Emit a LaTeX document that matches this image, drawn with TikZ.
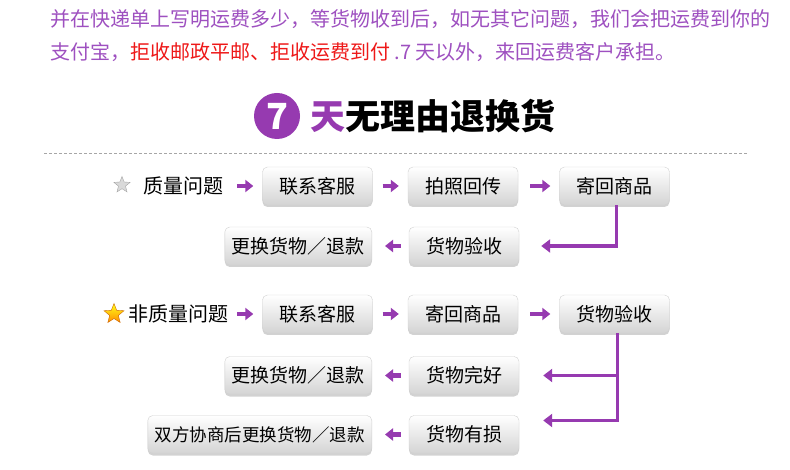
\documentclass[tikz,border=0pt]{standalone}
\usepackage{fontspec}
\setmainfont{Noto Sans CJK SC}
\usetikzlibrary{arrows.meta,shapes.geometric,shadows}
\definecolor{vio}{RGB}{150,58,176}
\definecolor{viotext}{RGB}{158,80,192}
\definecolor{redtext}{RGB}{238,24,24}
\begin{document}
\begin{tikzpicture}[x=1pt,y=-1pt,
  box/.style={rounded corners=5pt,minimum width=110pt,minimum height=38pt,inner xsep=7pt,
    top color=white,bottom color=black!17,draw=black!18,
    drop shadow={opacity=0.35,shadow xshift=0pt,shadow yshift=-2pt},font=\fontsize{19}{22}\selectfont},
  lbl/.style={font=\fontsize{20}{24}\selectfont,anchor=west,inner sep=0pt},
  flow/.style={vio,line width=4.5pt,-{Triangle[length=8pt,width=12pt]}},
  back/.style={vio,line width=3.5pt,-{Triangle[length=9pt,width=13pt]}}]
\fill[white] (0,0) rectangle (790,470);
\useasboundingbox (0,0) rectangle (790,470);
% notice on top
\node[lbl,viotext] (line1) at (50,19) {并在快递单上写明运费多少，等货物收到后，如无其它问题，我们会把运费到你的};
\node[lbl,viotext] (line2) at (50,52) {支付宝，\textcolor{redtext}{拒收邮政平邮、拒收运费到付}\ .7 天以外，来回运费客户承担。};
% title
\node[circle,fill=vio,minimum size=46pt,inner sep=0pt,text=white,font=\fontsize{36}{36}\selectfont\bfseries] (seven) at (277,116) {7};
\node[lbl,font=\fontsize{35}{40}\selectfont\bfseries] (title) at (310,116) {\textcolor{vio}{天}无理由退换货};
\draw[black!35,dash pattern=on 3pt off 2pt] (44,153) -- (748,153);
% quality problem
\node[star,star points=5,star point ratio=2.3,minimum size=17pt,inner sep=0pt,fill=black!15,draw=black!35] (star1) at (122,185) {};
\node[lbl] (quality) at (143,186) {质量问题};
\node[box] (contact1) at (317.5,186) {联系客服};
\node[box] (photo) at (463,186) {拍照回传};
\node[box] (send1) at (614.5,186) {寄回商品};
\node[box] (check1) at (464,246) {货物验收};
\node[box,anchor=east] (swap1) at (372,246) {更换货物／退款};
\draw[flow] ([xshift=14pt]quality.east) -- ([xshift=-9pt]contact1.west);
\draw[flow] ([xshift=10pt]contact1.east) -- ([xshift=-9pt]photo.west);
\draw[flow] ([xshift=12pt]photo.east) -- ([xshift=-9pt]send1.west);
\draw[back] ([xshift=2pt]send1.south) |- ([xshift=22pt]check1.east);
\draw[flow] ([xshift=-8pt]check1.west) -- ([xshift=13pt]swap1.east);
% non-quality problem
\node[star,star points=5,star point ratio=2.3,minimum size=21pt,inner sep=0pt,top color=yellow!90!white,bottom color=orange!90!yellow,draw=orange!80!black,thin] (star2) at (114,314) {};
\node[lbl] (nonq) at (128,314) {非质量问题};
\node[box] (contact2) at (317.5,314) {联系客服};
\node[box] (send2) at (463,314) {寄回商品};
\node[box] (check2) at (614.5,314) {货物验收};
\node[box] (good) at (464,375.5) {货物完好};
\node[box,anchor=east] (swap2) at (372,375.5) {更换货物／退款};
\node[box] (bad) at (464,434.5) {货物有损};
\node[box,anchor=east,font=\fontsize{17.5}{21}\selectfont] (deal) at (372,434.5) {双方协商后更换货物／退款};
\draw[flow] ([xshift=9pt]nonq.east) -- ([xshift=-9pt]contact2.west);
\draw[flow] ([xshift=10pt]contact2.east) -- ([xshift=-9pt]send2.west);
\draw[flow] ([xshift=12pt]send2.east) -- ([xshift=-9pt]check2.west);
\coordinate (fork) at ([xshift=3pt]check2.south |- good.east);
\draw[back] ([xshift=3pt]check2.south) |- ([xshift=24pt,yshift=14pt]bad.east);
\draw[back] (fork) -- ([xshift=24pt]good.east);
\draw[flow] ([xshift=-8pt]good.west) -- ([xshift=13pt]swap2.east);
\draw[flow] ([xshift=-8pt]bad.west) -- ([xshift=13pt]deal.east);
\end{tikzpicture}
\end{document}
